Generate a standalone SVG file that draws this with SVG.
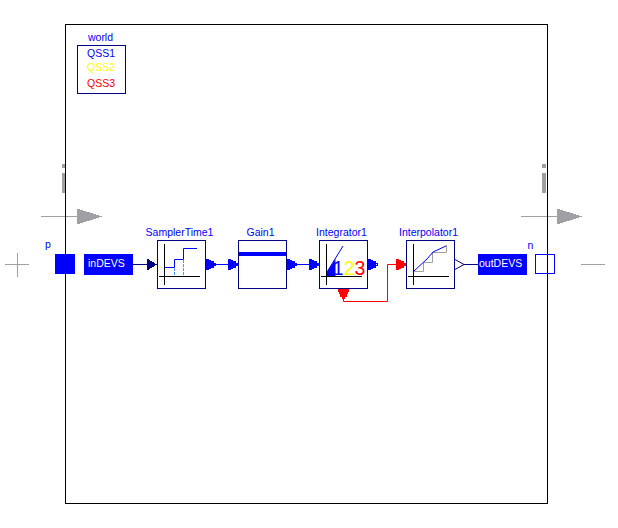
<svg xmlns="http://www.w3.org/2000/svg" width="618" height="528" viewBox="0 0 618 528">
<style>
text{font-family:"Liberation Sans",Arial,sans-serif;font-size:10.5px;fill:#0000ff}
.c{text-anchor:middle}
.box{fill:#fff;stroke:#000080;stroke-width:1}
.ax{fill:none;stroke:#000;stroke-width:1}
.gr{fill:none;stroke:#a0a0a4;stroke-width:1}
.bl{fill:none;stroke:#0000ff;stroke-width:1}
</style>
<defs>
<path id="port" shape-rendering="crispEdges" d="M0,-5.500H3V-4.500H5V-3.500H8V-1.500H10V1.500H8V3.500H5V4.500H3V5.500H0ZM8,-0.500V0.500H9V-0.500Z" fill-rule="evenodd"/>
</defs>
<rect width="618" height="528" fill="#fff"/>
<g id="ghost-left">
<path d="M62,164h3v4h-3zM62,173h3v20h-3z" fill="#a0a0a4"/>
<path class="gr" d="M41,216.500H78"/>
<path d="M77,208.500V224.500L102,216.500Z" fill="#a0a0a4" shape-rendering="crispEdges"/>
</g>
<g id="ghost-right">
<path d="M542,164h4v4h-4zM542,173h4v20h-4z" fill="#a0a0a4"/>
<path class="gr" d="M521,216.500H558"/>
<path d="M557,208.500V224.500L582,216.500Z" fill="#a0a0a4" shape-rendering="crispEdges"/>
</g>
<g id="frame"><rect x="65.500" y="24.500" width="482" height="479" fill="none" stroke="#000"/></g>
<g id="world">
<text class="c" x="100.500" y="41">world</text>
<rect x="77.500" y="45.500" width="48" height="48" fill="#fff" stroke="#000080"/>
<text x="87" y="57">QSS1</text>
<text x="87" y="71" style="fill:#ffff00">QSS2</text>
<text x="87" y="87" style="fill:#ff0000">QSS3</text>
</g>
<g id="connectors">
<path d="M133,264.500H148" stroke="#000080" fill="none"/>
<path d="M147,258.500V270.500L157,264.500Z" fill="#000080" shape-rendering="crispEdges"/>
<path d="M206,264.500H238" stroke="#0000ff" fill="none"/>
<use href="#port" x="206" y="264.500" fill="#0000ff"/>
<use href="#port" x="228" y="264.500" fill="#0000ff"/>
<path d="M287,264.500H319" stroke="#0000ff" fill="none"/>
<use href="#port" x="287" y="264.500" fill="#0000ff"/>
<use href="#port" x="309" y="264.500" fill="#0000ff"/>
<use href="#port" x="368" y="264.500" fill="#0000ff"/>
<path d="M343.500,296V301.500H387.500V264.500H406" stroke="#ff0000" fill="none"/>
<use href="#port" x="396" y="264.500" fill="#ff0000"/>
<use href="#port" transform="translate(343.500,289) rotate(90)" fill="#ff0000"/>
<path d="M455,259.500L464,264.500L455,269.500" fill="#fff" stroke="#000080"/>
<path d="M464,264.500H478" stroke="#000080" fill="none"/>
</g>
<g id="p">
<text class="c" x="48" y="248">p</text>
<path class="gr" d="M5,264.500H29M17.500,253V277"/>
<rect x="55" y="254" width="20" height="20" fill="#0000ff"/>
<path d="M65.500,254V274" stroke="#000080"/>
</g>
<g id="inDEVS">
<rect x="84" y="254" width="49" height="21" fill="#0000ff"/>
<text x="88" y="267" style="fill:#fff">inDEVS</text>
</g>
<g id="SamplerTime1">
<text class="c" x="179.500" y="236">SamplerTime1</text>
<rect class="box" x="157.500" y="240.500" width="48" height="48"/>
<path class="ax" d="M164.500,244V285M159,276.500H200"/>
<path class="bl" d="M165,267.500H174.500V259.500H183.500V248.500H197"/>
<path d="M174.500,268V276M183.500,260V276" fill="none" stroke="#3fa0ff" stroke-dasharray="3 1"/>
</g>
<g id="Gain1">
<text class="c" x="260.500" y="236">Gain1</text>
<rect class="box" x="238.500" y="240.500" width="48" height="48"/>
<rect x="239" y="252" width="47" height="4" fill="#0000ff"/>
</g>
<g id="Integrator1">
<text class="c" x="341.500" y="236">Integrator1</text>
<rect class="box" x="319.500" y="240.500" width="48" height="48"/>
<path class="ax" d="M326.500,244V285M321,276.500H362"/>
<path d="M327,276V272L335.500,259V276Z" fill="#0000ff"/>
<path class="bl" d="M327,272L343,246"/>
<text x="332.800" y="274.500" style="font-size:19.500px"><tspan>1</tspan><tspan style="fill:#ffff00">2</tspan><tspan style="fill:#ff0000">3</tspan></text>
</g>
<g id="Interpolator1">
<text class="c" x="428.500" y="236">Interpolator1</text>
<rect class="box" x="406.500" y="240.500" width="48" height="48"/>
<path class="ax" d="M413.500,244V285M408,276.500H449"/>
<path class="gr" d="M414,271.500H423.500V262.500H432.500V252.500H446.500V245"/>
<path class="bl" d="M414,271L427,259L433,252L446,246"/>
</g>
<g id="outDEVS">
<rect x="478" y="254" width="49" height="21" fill="#0000ff"/>
<text x="479" y="267" style="fill:#fff">outDEVS</text>
</g>
<g id="n">
<text class="c" x="530.500" y="249">n</text>
<rect x="535.500" y="254.500" width="19" height="19" fill="none" stroke="#0000ff"/>
<path class="gr" d="M581,264.500H605"/>
</g>
</svg>
